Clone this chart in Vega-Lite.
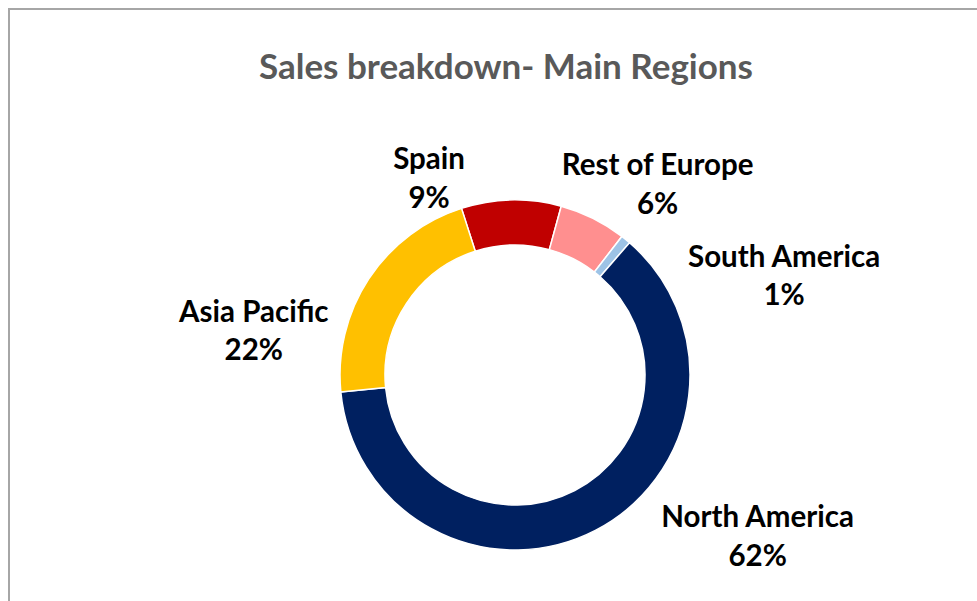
{
  "$schema": "https://vega.github.io/schema/vega-lite/v6.json",
  "width": 1012,
  "height": 732,
  "autosize": "none",
  "padding": {"left": 9, "top": 9, "right": 0, "bottom": 0},
  "background": "white",
  "view": {"stroke": "#A6A6A6", "strokeWidth": 2},
  "config": {"view": {"stroke": "#A6A6A6", "strokeWidth": 2}},
  "title": {
    "text": "Sales breakdown- Main Regions",
    "font": "Lato",
    "fontSize": 35,
    "fontWeight": "bold",
    "color": "#595959",
    "anchor": "middle",
    "frame": "group",
    "baseline": "alphabetic",
    "offset": -105,
    "dx": -9
  },
  "data": {
    "values": [
      {"region": "Spain", "value": 9.2, "order": 1},
      {"region": "Rest of Europe", "value": 6.2, "order": 2},
      {"region": "South America", "value": 0.9, "order": 3},
      {"region": "North America", "value": 62.1, "order": 4},
      {"region": "Asia Pacific", "value": 21.6, "order": 5}
    ]
  },
  "transform": [
    {"stack": "value", "groupby": [], "sort": [{"field": "order", "order": "ascending"}], "as": ["v0", "v1"]},
    {"calculate": "(datum.v0 + datum.v1) / 2", "as": "mid"},
    {"calculate": "datum.region + '\\n' + format(datum.value, '.0f') + '%'", "as": "label"}
  ],
  "layer": [
    {
      "mark": {"type": "arc", "outerRadius": 175, "innerRadius": 130, "stroke": "white", "strokeWidth": 1.5},
      "encoding": {
        "theta": {"field": "v0", "type": "quantitative", "scale": {"domain": [0, 100], "range": [-0.31067, 5.97252]}},
        "theta2": {"field": "v1"},
        "color": {
          "field": "region",
          "type": "nominal",
          "scale": {
            "domain": ["Spain", "Rest of Europe", "South America", "North America", "Asia Pacific"],
            "range": ["#C00000", "#FF8F8F", "#9DC3E6", "#002060", "#FFC000"]
          },
          "legend": null
        }
      }
    },
    {
      "transform": [{"filter": "datum.region === 'Spain'"}],
      "mark": {"type": "text", "radius": 230, "dx": -81, "dy": 24, "font": "Lato", "fontSize": 29.5, "fontWeight": "bold", "color": "black", "lineBreak": "\n", "lineHeight": 38.5, "baseline": "alphabetic", "align": "center"},
      "encoding": {
        "theta": {"field": "mid", "type": "quantitative", "scale": {"domain": [0, 100], "range": [-0.31067, 5.97252]}},
        "text": {"field": "label"}
      }
    },
    {
      "transform": [{"filter": "datum.region === 'Rest of Europe'"}],
      "mark": {"type": "text", "radius": 230, "dx": 40, "dy": 6, "font": "Lato", "fontSize": 29.5, "fontWeight": "bold", "color": "black", "lineBreak": "\n", "lineHeight": 38.5, "baseline": "alphabetic", "align": "center"},
      "encoding": {
        "theta": {"field": "mid", "type": "quantitative", "scale": {"domain": [0, 100], "range": [-0.31067, 5.97252]}},
        "text": {"field": "label"}
      }
    },
    {
      "transform": [{"filter": "datum.region === 'South America'"}],
      "mark": {"type": "text", "radius": 230, "dx": 123.5, "dy": 70, "font": "Lato", "fontSize": 29.5, "fontWeight": "bold", "color": "black", "lineBreak": "\n", "lineHeight": 38.5, "baseline": "alphabetic", "align": "center"},
      "encoding": {
        "theta": {"field": "mid", "type": "quantitative", "scale": {"domain": [0, 100], "range": [-0.31067, 5.97252]}},
        "text": {"field": "label"}
      }
    },
    {
      "transform": [{"filter": "datum.region === 'North America'"}],
      "mark": {"type": "text", "radius": 230, "dx": 137, "dy": -52, "font": "Lato", "fontSize": 29.5, "fontWeight": "bold", "color": "black", "lineBreak": "\n", "lineHeight": 38.5, "baseline": "alphabetic", "align": "center"},
      "encoding": {
        "theta": {"field": "mid", "type": "quantitative", "scale": {"domain": [0, 100], "range": [-0.31067, 5.97252]}},
        "text": {"field": "label"}
      }
    },
    {
      "transform": [{"filter": "datum.region === 'Asia Pacific'"}],
      "mark": {"type": "text", "radius": 230, "dx": -69, "dy": 73, "font": "Lato", "fontSize": 29.5, "fontWeight": "bold", "color": "black", "lineBreak": "\n", "lineHeight": 38.5, "baseline": "alphabetic", "align": "center"},
      "encoding": {
        "theta": {"field": "mid", "type": "quantitative", "scale": {"domain": [0, 100], "range": [-0.31067, 5.97252]}},
        "text": {"field": "label"}
      }
    }
  ]
}
